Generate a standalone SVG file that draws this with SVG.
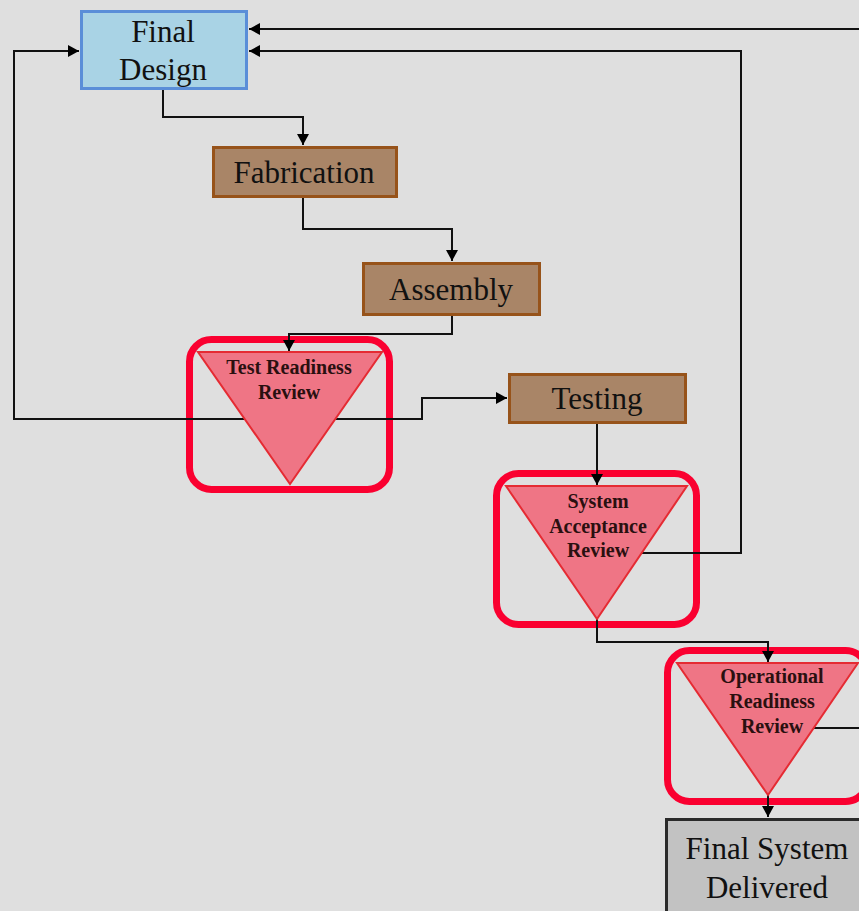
<svg xmlns="http://www.w3.org/2000/svg" width="859" height="911" viewBox="0 0 859 911">
<defs>
<marker id="ah" markerUnits="userSpaceOnUse" markerWidth="12" markerHeight="12" refX="11" refY="6" orient="auto">
<path d="M0,0 L11,6 L0,12 z" fill="#000"/>
</marker>
<style>
.conn{fill:none;stroke:#111;stroke-width:2}
.lbl{font-family:"Liberation Serif","Times New Roman",serif;font-size:31px;fill:#111;text-anchor:middle}
.tri{fill:#ef7585;stroke:#e52b33;stroke-width:2}
.tlbl{font-family:"Liberation Serif","Times New Roman",serif;font-size:20px;font-weight:bold;fill:#2a1010;text-anchor:middle}
.hl{fill:none;stroke:#fa0030;stroke-width:7}
.proc{fill:#a98567;stroke:#97531a;stroke-width:3}
</style>
</defs>
<rect width="859" height="911" fill="#dfdfdf"/>
<g id="highlights">
<rect class="hl" x="189.5" y="339.5" width="200" height="150" rx="22"/>
<rect class="hl" x="496.5" y="473.5" width="200" height="151" rx="22"/>
<rect class="hl" x="667.5" y="650.5" width="200" height="151" rx="22"/>
</g>
<g id="connectors">
<path class="conn" d="M163,90 V117 H303 V145" marker-end="url(#ah)"/>
<path class="conn" d="M303,198 V229 H452 V261" marker-end="url(#ah)"/>
<path class="conn" d="M452,316 V334 H289 V351" marker-end="url(#ah)"/>
<path class="conn" d="M290,419 H14 V51 H79" marker-end="url(#ah)"/>
<path class="conn" d="M290,419 H422 V398 H507" marker-end="url(#ah)"/>
<path class="conn" d="M597,424 V485" marker-end="url(#ah)"/>
<path class="conn" d="M597,553 H741 V51 H249" marker-end="url(#ah)"/>
<path class="conn" d="M597,619 V642 H768 V662" marker-end="url(#ah)"/>
<path class="conn" d="M768,728 H885 V29 H249" marker-end="url(#ah)"/>
<path class="conn" d="M768,795 V817" marker-end="url(#ah)"/>
</g>
<g id="final-design">
<rect x="81.5" y="11.5" width="165" height="77" fill="#a9d3e5" stroke="#5a8ed8" stroke-width="3"/>
<text class="lbl" x="163" y="42">Final</text>
<text class="lbl" x="163" y="80">Design</text>
</g>
<g id="fabrication">
<rect class="proc" x="213.5" y="147.5" width="183" height="49"/>
<text class="lbl" x="304" y="183">Fabrication</text>
</g>
<g id="assembly">
<rect class="proc" x="363.5" y="263.5" width="176" height="51"/>
<text class="lbl" x="451" y="300">Assembly</text>
</g>
<g id="test-readiness-review">
<polygon class="tri" points="198,352 382,352 290,484"/>
<text class="tlbl" x="289" y="374">Test Readiness</text>
<text class="tlbl" x="289" y="399">Review</text>
</g>
<g id="testing">
<rect class="proc" x="509.5" y="374.5" width="176" height="48"/>
<text class="lbl" x="597" y="409">Testing</text>
</g>
<g id="system-acceptance-review">
<polygon class="tri" points="506,486 687,486 597,619"/>
<text class="tlbl" x="598" y="508">System</text>
<text class="tlbl" x="598" y="533">Acceptance</text>
<text class="tlbl" x="598" y="557">Review</text>
</g>
<g id="operational-readiness-review">
<polygon class="tri" points="677,663 858,663 768,795"/>
<text class="tlbl" x="772" y="683">Operational</text>
<text class="tlbl" x="772" y="708">Readiness</text>
<text class="tlbl" x="772" y="733">Review</text>
</g>
<g id="final-system-delivered">
<rect x="666.5" y="819.5" width="203" height="110" fill="#c2c2c2" stroke="#2a2a2a" stroke-width="3"/>
<text class="lbl" x="767" y="859">Final System</text>
<text class="lbl" x="767" y="898">Delivered</text>
</g>
</svg>
